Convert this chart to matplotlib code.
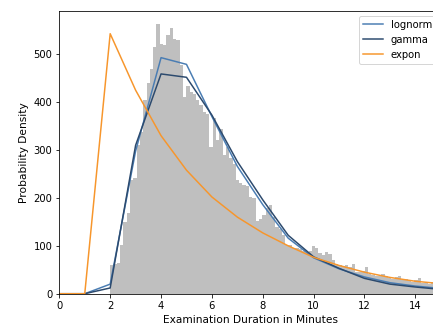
import numpy as np
import matplotlib
matplotlib.use("Agg")
import matplotlib.pyplot as plt

# Histogram: 100 bins spanning 2..15 minutes
bin_start, bin_end, n_bins = 2.0, 15.0, 100
hist_heights = [
    60, 63, 65, 102, 150, 168, 238, 242, 310, 338,
    405, 440, 470, 515, 564, 522, 520, 540, 555, 532,
    530, 477, 411, 433, 422, 418, 404, 395, 380, 376,
    307, 366, 320, 343, 290, 307, 283, 270, 237, 232,
    228, 225, 202, 200, 152, 157, 165, 178, 185, 160,
    140, 135, 122, 102, 102, 95, 95, 93, 90, 88,
    90, 100, 95, 84, 80, 88, 82, 70, 62, 60,
    58, 60, 55, 63, 46, 45, 47, 55, 42, 40,
    38, 36, 42, 38, 32, 30, 35, 38, 28, 30,
    26, 24, 28, 32, 22, 22, 20, 24, 18, 18,
]

# Fitted curves sampled at whole minutes
x_points = list(range(0, 16))
lognorm_vals = [0, 0, 20, 298, 493, 479, 370, 266, 186, 116, 75, 52, 35, 23, 16, 11]
gamma_vals = [0, 0, 12, 310, 459, 452, 373, 276, 196, 122, 77, 53, 32, 20, 14, 9]
expon_vals = [0, 0, 543, 425, 330, 258, 202, 160, 127, 100, 76, 59, 45, 34, 26, 21]

series_names = ["lognorm", "gamma", "expon"]
series_colors = ["#4a7db3", "#2c4a6e", "#f7962c"]

fig = plt.figure(figsize=(433 / 72, 327 / 72), dpi=72)
ax = fig.add_axes([0.137, 0.1018, 0.881, 0.8654])

edges = np.linspace(bin_start, bin_end, n_bins + 1)
ax.hist(edges[:-1], bins=edges, weights=hist_heights, color="#bfbfbf")

for name, vals, col in zip(series_names, [lognorm_vals, gamma_vals, expon_vals], series_colors):
    ax.plot(x_points, vals, color=col, lw=1.5, label=name)

ax.set_xlim(0, 15)
ax.set_ylim(0, 591)
ax.set_xticks(range(0, 15, 2))
ax.set_yticks(range(0, 600, 100))
ax.set_xlabel("Examination Duration in Minutes", fontsize=10.6)
ax.set_ylabel("Probability Density", fontsize=10.6)
ax.tick_params(labelsize=10)
ax.legend(loc="upper right", fontsize=10)

fig.savefig("out.png", dpi=72)
